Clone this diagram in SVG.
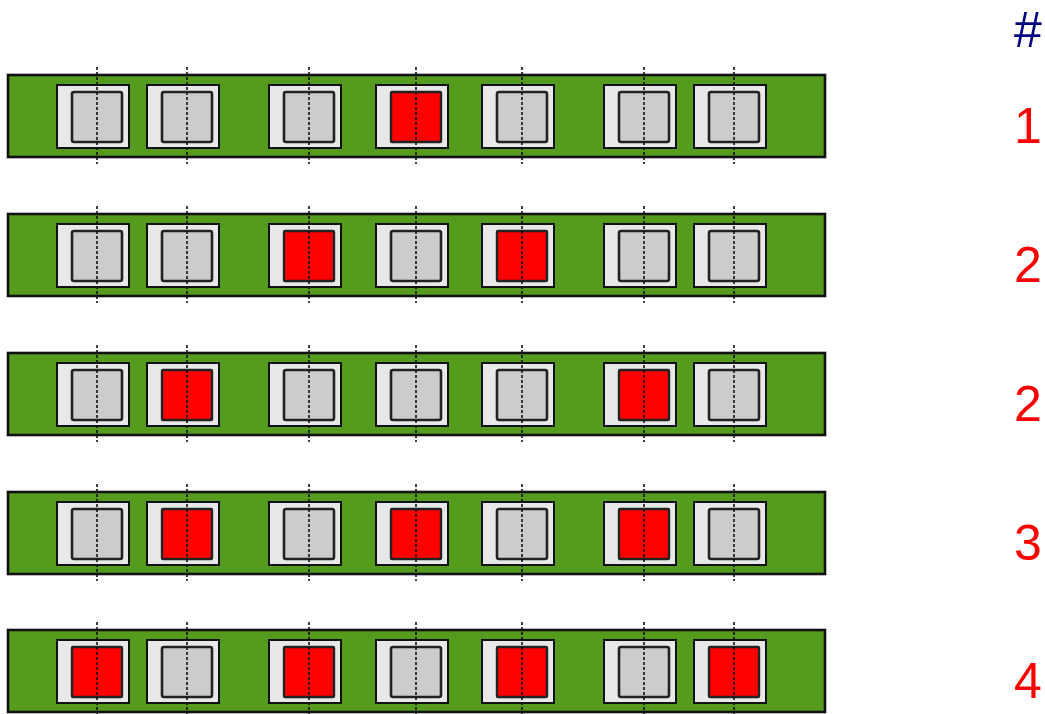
<svg xmlns="http://www.w3.org/2000/svg" xmlns:xlink="http://www.w3.org/1999/xlink" width="1045" height="714" viewBox="0 0 1045 714">
<style>
.bar{fill:#559b1e;stroke:#111;stroke-width:2.6}
.frame{fill:#e8e8e8;stroke:#111;stroke-width:2}
.off{fill:#cccccc;stroke:#222;stroke-width:2.6}
.on{fill:#ff0000;stroke:#222;stroke-width:2.4}
.axis{stroke:#111;stroke-width:1.6;stroke-dasharray:3 2;fill:none}
.num{font-family:"Liberation Sans",Arial,sans-serif;font-size:50px;fill:#ff0000;text-anchor:middle}
.hash{font-family:"Liberation Sans",Arial,sans-serif;font-size:50px;fill:#000080;text-anchor:middle}
</style>
<defs>
<g id="btnOff">
<rect class="frame" x="-40" y="10" width="72" height="63"/>
<rect class="off" x="-25" y="17" width="50" height="50" rx="2"/>
<line class="axis" x1="0" y1="-8" x2="0" y2="89"/>
</g>
<g id="btnOn">
<rect class="frame" x="-40" y="10" width="72" height="63"/>
<rect class="on" x="-25" y="17" width="50" height="50" rx="1"/>
<line class="axis" x1="0" y1="-8" x2="0" y2="89"/>
</g>
</defs>
<text class="hash" x="1028" y="47">#</text>
<g id="row1" transform="translate(0,75)">
<rect class="bar" x="8" y="0" width="817" height="82"/>
<use xlink:href="#btnOff" x="97"/><use xlink:href="#btnOff" x="187"/><use xlink:href="#btnOff" x="309"/><use xlink:href="#btnOn" x="416"/><use xlink:href="#btnOff" x="522"/><use xlink:href="#btnOff" x="644"/><use xlink:href="#btnOff" x="734"/>
<text class="num" x="1028" y="68">1</text>
</g>
<g id="row2" transform="translate(0,214)">
<rect class="bar" x="8" y="0" width="817" height="82"/>
<use xlink:href="#btnOff" x="97"/><use xlink:href="#btnOff" x="187"/><use xlink:href="#btnOn" x="309"/><use xlink:href="#btnOff" x="416"/><use xlink:href="#btnOn" x="522"/><use xlink:href="#btnOff" x="644"/><use xlink:href="#btnOff" x="734"/>
<text class="num" x="1028" y="68">2</text>
</g>
<g id="row3" transform="translate(0,353)">
<rect class="bar" x="8" y="0" width="817" height="82"/>
<use xlink:href="#btnOff" x="97"/><use xlink:href="#btnOn" x="187"/><use xlink:href="#btnOff" x="309"/><use xlink:href="#btnOff" x="416"/><use xlink:href="#btnOff" x="522"/><use xlink:href="#btnOn" x="644"/><use xlink:href="#btnOff" x="734"/>
<text class="num" x="1028" y="68">2</text>
</g>
<g id="row4" transform="translate(0,492)">
<rect class="bar" x="8" y="0" width="817" height="82"/>
<use xlink:href="#btnOff" x="97"/><use xlink:href="#btnOn" x="187"/><use xlink:href="#btnOff" x="309"/><use xlink:href="#btnOn" x="416"/><use xlink:href="#btnOff" x="522"/><use xlink:href="#btnOn" x="644"/><use xlink:href="#btnOff" x="734"/>
<text class="num" x="1028" y="68">3</text>
</g>
<g id="row5" transform="translate(0,630)">
<rect class="bar" x="8" y="0" width="817" height="82"/>
<use xlink:href="#btnOn" x="97"/><use xlink:href="#btnOff" x="187"/><use xlink:href="#btnOn" x="309"/><use xlink:href="#btnOff" x="416"/><use xlink:href="#btnOn" x="522"/><use xlink:href="#btnOff" x="644"/><use xlink:href="#btnOn" x="734"/>
<text class="num" x="1028" y="68">4</text>
</g>
</svg>
